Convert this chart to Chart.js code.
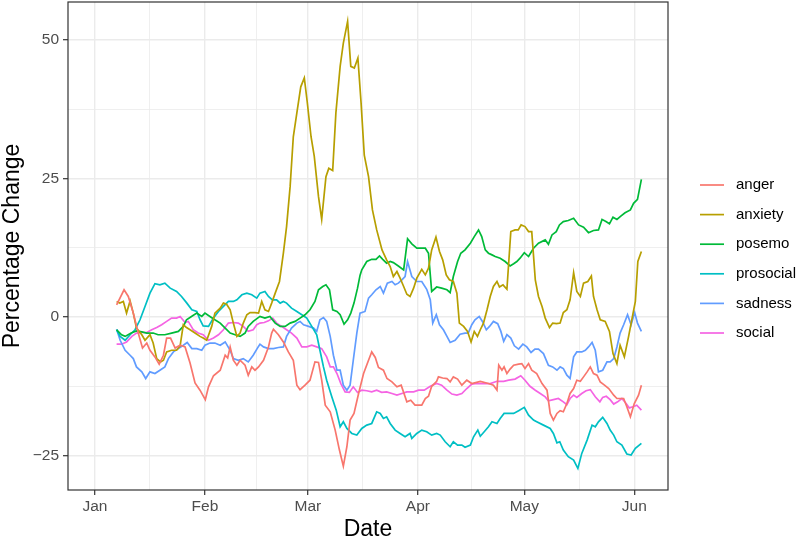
<!DOCTYPE html>
<html>
<head>
<meta charset="utf-8">
<title>Percentage Change</title>
<script src="https://cdn.jsdelivr.net/npm/chart.js@4/dist/chart.umd.min.js"></script>
<style>
  html, body { margin: 0; padding: 0; background: #ffffff; }
  #chart { display: block; }
</style>
</head>
<body>
<canvas id="chart" width="798" height="545"></canvas>
<script>
// days counted from Jan 1 (2020)
const categories = ['anger', 'anxiety', 'posemo', 'prosocial', 'sadness', 'social'];
const colors = ['#F8766D', '#B79F00', '#00BA38', '#00BFC4', '#619CFF', '#F564E3'];

// month breaks (major) and the mid-month breaks (minor)
const monthDays = [0, 31, 60, 91, 121, 152];
const monthLabels = ['Jan', 'Feb', 'Mar', 'Apr', 'May', 'Jun'];
const midMonthDays = [15.5, 45.5, 75.5, 106, 136.5];

const yTicks = [-25, 0, 25, 50];
const yMinorTicks = [-12.5, 12.5, 37.5];

const anger = [[6.1,2.2],[8.2,4.9],[9.4,3.7],[10.8,0.7],[12.2,-2.9],[13.4,-5.6],[14.6,-4.7],[15.5,-6],[16.9,-7.2],[18.1,-8.5],[19.3,-6.9],[20.2,-3.8],[21.3,-3.8],[22.6,-5.6],[24,-5.1],[25.4,-5.4],[26.8,-8.3],[28.2,-11.9],[29.6,-13.2],[31.1,-14.9],[32,-12.6],[33.4,-10.6],[35.3,-9.6],[36.7,-6.9],[37.4,-7.4],[38.1,-5.4],[39,-7.8],[40,-8.7],[40.9,-7.8],[42.3,-8.7],[43.2,-10.5],[44.2,-9],[45.1,-9.6],[46.1,-9],[47.5,-7.8],[48.9,-5.4],[49.8,-2.9],[50.3,-2.2],[51.7,-3.2],[53.1,-4.5],[54.5,-6.3],[55.9,-7.8],[56.9,-12.3],[57.8,-13.1],[59.2,-12.3],[60.6,-11.4],[62,-8.1],[63,-8.2],[63.9,-11.4],[64.9,-15.9],[66.3,-17.1],[67.7,-20.4],[68.9,-24],[70,-26.9],[71,-23.4],[71.9,-18.6],[73,-17.4],[74.3,-13.8],[75.7,-10.2],[77.1,-7.8],[78,-6.3],[79,-7.3],[79.9,-9.1],[81.3,-9.6],[82.3,-11.1],[83.7,-11.7],[85.1,-12.6],[86.3,-12.3],[87.9,-15.3],[89,-15],[90.2,-15.9],[92.1,-15.9],[93.1,-14.7],[94,-14.3],[94.9,-12.5],[96.3,-11.6],[96.8,-10.8],[98,-11],[99.2,-11.1],[100.1,-11.7],[101,-10.8],[102.2,-11.2],[103.4,-12.3],[104.8,-11.4],[106.2,-12],[108.6,-11.6],[110.9,-12],[112.3,-12.3],[113.3,-13.2],[113.8,-8.7],[114.7,-9.6],[115.3,-9],[116.1,-10.2],[117,-9.4],[118,-8.7],[119.4,-8.5],[120.3,-8.4],[121.2,-9.3],[122.2,-8.4],[123.1,-9.6],[124.5,-10.2],[126,-12],[127.4,-13.2],[128.3,-17.4],[129.2,-18.6],[130.2,-17.4],[131.1,-16.9],[132,-17.1],[133,-15.6],[133.9,-13.8],[134.9,-12.9],[135.8,-11.4],[136.8,-11.6],[137.7,-10.8],[138.7,-9.9],[139.6,-9],[140.5,-10.2],[141.5,-10.5],[142.4,-11.7],[143.6,-12.3],[144.8,-12.9],[146.2,-14.1],[147.1,-14.7],[149,-14.7],[149.9,-16.2],[150.9,-18],[152,-15.6],[153.2,-14.1],[154,-12.3]];

const anxiety = [[6.1,2.8],[7,2.5],[8,2.8],[8.9,0.7],[9.9,2.9],[10.8,0.7],[11.7,-2],[13.2,-3.2],[14.1,-4.2],[15.5,-3.2],[16.4,-4.7],[17.4,-7.5],[18.5,-8.1],[19.3,-7.8],[20.2,-6.3],[21.6,-6],[23,-6],[24,-5.2],[24.9,-1.4],[25.8,-1.9],[26.8,-2.3],[28.2,-2.9],[29.6,-3.5],[30.5,-3.8],[31.5,-4.2],[32.9,-1.7],[33.8,0.7],[35.3,1.6],[36.2,2.5],[37.1,2.3],[38.1,1.3],[39,-1.1],[40,-3.5],[40.9,-2.9],[41.8,-1.1],[42.8,0.4],[43.7,0.8],[45.1,0.8],[46.1,0.7],[47,2.8],[47.9,1.3],[48.9,1],[49.8,2.5],[50.8,4.3],[52,6.4],[53.1,11.5],[54,16.3],[55,23.5],[55.9,32.5],[56.9,36.8],[58,41.5],[59,43.1],[59.8,38.9],[60.9,32.5],[61.8,29],[63,21.7],[63.9,17.6],[65.1,25.3],[65.9,26.8],[67,26.4],[67.9,36.8],[69.1,45.2],[70,49.4],[71.2,53.3],[72.1,45.2],[73.1,44.9],[74.1,46.7],[75,38.6],[75.9,29.2],[77.1,25.3],[78.2,19.3],[79.4,15.7],[80.9,12.1],[82.2,10.3],[83.2,9.1],[84.1,7.3],[85.1,8.2],[86,7],[87,5.5],[87.9,4.1],[88.8,3.7],[89.8,5.2],[90.7,7],[92.1,8.6],[93.1,7.6],[94,8.8],[94.9,12.1],[96.1,14.4],[97.1,11.8],[98,10.3],[99,7.6],[99.9,6.7],[101,6.4],[102,4.3],[102.7,-1.1],[103.9,-1.7],[105,-2.6],[106,-4.5],[106.9,-2.6],[107.8,-3.5],[108.6,-2.3],[109.5,-1.1],[110.5,1.3],[111.4,3.7],[112.3,5.5],[113.3,6.4],[114,5.4],[115,5.8],[116.1,5],[117.2,15.4],[118.4,15.7],[119.3,15.7],[120.1,16.6],[121.2,16.3],[122.2,15.4],[123.1,15.4],[124.1,6.7],[125,3.7],[126,1.9],[126.9,-0.2],[128.1,-1.9],[129,-1.1],[130.1,-1.2],[131.1,-1.1],[132,0.8],[133,1.3],[133.9,3.1],[134.9,8],[135.8,4.6],[136.8,3.7],[137.7,6.1],[138.9,6.4],[139.9,7.4],[140.5,3.7],[141.5,1.3],[142.4,-0.5],[143.8,-0.8],[145,-2.6],[146,-6.6],[147.1,-8.4],[148,-5.1],[149.2,-7.2],[150.4,-3.5],[151.3,-0.5],[152.3,2.8],[153,10],[154,11.8]];

const posemo = [[6.1,-2.3],[7.5,-3.2],[8.5,-3.5],[10.2,-2.9],[11.7,-2.5],[13.2,-2.7],[14.6,-2.9],[16.4,-2.9],[17.8,-3.2],[19.7,-3.2],[21.6,-2.9],[23.5,-2.6],[24.9,-1.7],[25.8,-0.5],[27.2,0.1],[28.7,0.7],[30.1,0.1],[31,0.7],[32.4,0.1],[33.8,-0.5],[35.3,-1.1],[36.7,-2],[38.1,-2.9],[39.5,-3.2],[40.9,-3.5],[42.3,-2.9],[43.2,-1.7],[44.6,-0.8],[46.5,0.1],[47.9,-0.2],[49.3,0.1],[50.8,-1.1],[52.2,-1.7],[53.6,-1.7],[55,-1.1],[56.4,-0.8],[57.8,-0.2],[59.2,0.4],[60.6,1.3],[62,2.8],[63,4.9],[64.2,5.5],[65.1,5.8],[66.1,4.9],[67,1.3],[68.2,1],[69.1,0.4],[70.2,-1.3],[71.2,-0.5],[72.1,0.7],[73,2.5],[74,5.2],[74.7,7.5],[75.2,8.5],[76.6,10],[78,10.4],[79.2,10.4],[80.2,11],[81.1,10.4],[82.2,9.7],[83.2,10],[84.1,9.8],[85.5,9.2],[87,8.5],[88.1,14.1],[89.3,13.2],[90.7,12.4],[92.1,12.4],[93.1,12.4],[94,11.5],[94.9,4.6],[96.3,5.4],[97.7,5.2],[99.2,4.9],[100.1,4.4],[101,7.3],[102.2,10],[103.1,11.5],[104.3,12.1],[105.8,13.3],[106.9,14.5],[108.1,15.7],[109,14.5],[110,12.1],[110.9,11.5],[111.9,11.2],[112.8,10.9],[114.2,10.6],[115.6,10],[117,9.2],[118,9.6],[118.9,10],[119.8,10.6],[121,11.6],[122.2,10.9],[123.6,12.4],[125,13.3],[126.9,13.9],[127.8,13.1],[128.8,14.8],[130,15.4],[130.9,16.6],[132,17.2],[133.4,17.4],[134.9,17.8],[136.3,16.6],[137.7,16.2],[139.1,15.2],[140.5,15.6],[141.9,15.7],[142.9,17.6],[144,17.2],[145,16.8],[146,18],[147.1,17.6],[148.2,18.2],[149.4,18.8],[150.9,19.3],[151.8,20.5],[152.9,21.2],[154,24.8]];

const prosocial = [[6.1,-2.3],[7.1,-3.5],[8.5,-4.2],[9.9,-3.2],[11.3,-2.3],[12.7,-0.5],[14.1,1.9],[15.5,4.3],[16.9,6],[18.3,5.8],[19.7,6.1],[21.2,5.2],[23,4.6],[24.4,3.7],[25.9,2.5],[27.3,1.3],[28.7,1],[29.6,-0.5],[30.5,-1.6],[32,-1.7],[33.4,-0.2],[34.8,1],[36.2,1.9],[37.6,2.8],[39,2.8],[40,3.1],[41.4,4],[42.8,4.3],[44.2,4],[45.6,3.4],[46.5,4.3],[47.9,4.6],[48.9,3.7],[50,3.1],[51.2,3.1],[52.2,2.5],[53.1,2.8],[54,2.5],[55.4,1.6],[56.9,1],[58.3,0.4],[59.7,-0.2],[61.1,-1.7],[62.5,-3.2],[63.4,-6],[64.4,-9],[65.3,-11.4],[66.7,-14.3],[68,-16.8],[69.1,-19.8],[70,-18.9],[71,-20.1],[72.4,-21],[73.8,-21.3],[75.2,-20.1],[76.6,-19.5],[78,-19.2],[79.4,-17.1],[80.4,-17.4],[81.3,-18.3],[82.2,-18],[83.2,-19.2],[84.6,-20.4],[86,-21],[87.4,-21.6],[88.8,-21],[89.3,-21.9],[90.7,-21],[92.1,-20.4],[93.5,-20.7],[94.9,-21.3],[96.3,-21],[97.3,-21.3],[98.7,-22.5],[100.1,-23.4],[101,-22.5],[102.2,-23.1],[103.4,-23.1],[104.3,-23.5],[105.8,-23.1],[106.7,-21.6],[107.9,-20.4],[108.6,-21.5],[109.7,-20.7],[110.9,-19.8],[111.9,-18.9],[113.3,-19.2],[114.2,-18.3],[115.3,-17.4],[116.6,-17.4],[118,-17.4],[119.4,-16.9],[121,-16.3],[122.2,-17.7],[123.6,-18.6],[124.5,-18.9],[126.4,-19.5],[128.3,-20.1],[129.2,-21],[130.2,-22.7],[131,-22.5],[132,-24],[133.4,-25.2],[134.9,-25.8],[136.1,-27.3],[137.2,-24.6],[138.7,-22.2],[140.1,-19.5],[141,-19.8],[141.9,-18.9],[143.1,-18.1],[144.3,-19.2],[145.2,-20.4],[146.2,-21.3],[147.1,-22.5],[148.5,-23.1],[149.9,-24.7],[151.1,-24.9],[152.3,-23.7],[154,-22.8]];

const sadness = [[6.1,-2.2],[7.1,-4.2],[8.5,-6],[9.9,-6.9],[10.8,-7.5],[11.7,-9],[13.2,-9.9],[14.3,-11.1],[15.5,-9.9],[16.9,-10.2],[18.3,-9.6],[19.7,-9],[20.7,-7.5],[22.1,-6.3],[23.5,-5.7],[24.9,-5.1],[26,-4.6],[27.3,-5.7],[28.7,-5.7],[30.1,-6],[31,-5.1],[32.4,-4.7],[33.8,-4.7],[35.3,-5.1],[36.7,-4.5],[38.1,-6],[39,-7.5],[40.4,-7.8],[41.8,-7.5],[43.2,-8.1],[44.6,-6.9],[46,-5.4],[46.5,-4.9],[47.5,-5.4],[48.9,-5.7],[50.3,-5.7],[51.7,-5.5],[53.1,-5.4],[54,-3.5],[55.4,-2],[56.9,-1.1],[57.8,-0.8],[58.8,-1.4],[60.2,-1.7],[61.6,-2],[62.5,-2.6],[63.4,-0.5],[64.4,-0.1],[65.3,-0.8],[66.3,-3.5],[67.2,-6.9],[68.2,-9.6],[69.1,-9.6],[70,-12.3],[71,-13.2],[71.9,-12.3],[72.8,-7.8],[73.8,-2.9],[74.7,0.7],[76.1,1],[77.1,3.4],[78,4],[79.2,4.9],[80.4,5.5],[81.3,4.3],[82.4,6.1],[83.7,6.4],[84.6,5.8],[85.5,6.1],[86.5,6.7],[87.4,7.3],[88.1,10],[89.3,7.3],[90.7,6.4],[92.1,6.4],[93.5,5],[94.5,3.1],[95.2,-1.1],[96.2,0.4],[97.1,-1.4],[98.2,-2.3],[99.2,-3.5],[100.1,-4.6],[101.5,-4.2],[102.9,-3.1],[104.3,-2.9],[105.2,-2.9],[106.2,-1.4],[107.1,-0.5],[108.3,0.1],[109.2,-0.8],[110.3,-2.3],[111.2,-1.7],[112.3,-0.8],[113.5,-1.2],[114.4,-2.6],[115.2,-4.4],[116.1,-3.2],[117.2,-3.8],[118.2,-5.2],[119.4,-5.8],[120.6,-4.9],[121.7,-5.4],[122.9,-6.4],[124,-5.8],[125,-5.8],[126.4,-6.6],[127.8,-8.7],[129,-9],[130.2,-9.6],[131.1,-9],[132,-9.3],[133,-10.5],[133.9,-11.1],[134.9,-7.2],[135.8,-6.3],[137.2,-6.3],[138.2,-6],[139.1,-5.4],[140.1,-4.6],[141,-6],[141.9,-9.9],[143.1,-9.6],[144.3,-8.1],[145.2,-8.1],[146.2,-7.5],[147.1,-5.4],[148,-2.9],[149,-1.4],[150.1,0.4],[151.1,-1.4],[152.1,0.8],[152.9,-1.1],[154,-2.6]];

const social = [[6.1,-4.9],[7.5,-4.9],[8.9,-4.5],[10.4,-3.5],[11.7,-2.9],[13.2,-2.8],[14.6,-2.8],[16,-2.3],[17.4,-1.9],[18.8,-1.4],[20.2,-0.8],[21.6,-0.2],[23,-0.2],[24,0.1],[25.4,-1],[26.3,-0.8],[27.7,-2.3],[29.1,-2.9],[30.5,-3.2],[32,-4.2],[33.4,-3.8],[34.8,-3.2],[36.2,-2.3],[37.6,-1.1],[39,-1],[40.4,-1.1],[41.8,-1.7],[43.2,-2.6],[44.6,-2.3],[45.6,-1.4],[46.5,-1.1],[47.7,-1],[48.9,-0.7],[50.1,-0.2],[51.2,-1.1],[52.6,-1.7],[54,-2.3],[55.4,-2.9],[56.9,-3.8],[58.3,-5.4],[59.7,-5.4],[61.1,-5.1],[62.5,-5.4],[63.9,-5.7],[65.3,-7.2],[66.3,-9],[67.2,-9],[68.2,-10.2],[69.3,-12],[70.5,-13.5],[71.7,-13.6],[72.8,-12.6],[74,-13.6],[75.2,-13.2],[76.6,-13.3],[78,-13.5],[79.4,-13.2],[80.8,-13.6],[82.2,-13.5],[83.7,-13.8],[85.1,-14.1],[86.5,-13.8],[87.9,-13.5],[89.8,-13.5],[91.2,-13.2],[92.8,-13.2],[94.5,-12.5],[96.3,-12],[97.7,-12.3],[99.2,-13.2],[100.6,-13.9],[102,-14.1],[103.4,-13.8],[104.8,-12.9],[106.2,-12.1],[107.6,-12],[109.5,-12],[111.4,-12],[113.3,-11.6],[115.2,-11.6],[116.6,-11.4],[118.4,-11.2],[120,-10.6],[121.2,-11.4],[122.6,-12.5],[124.1,-13.2],[125.5,-13.8],[126.9,-14.4],[127.8,-15.1],[129.2,-14.9],[130.6,-14.7],[132,-15.3],[133,-15.8],[133.9,-14.7],[134.9,-14.1],[135.8,-14.5],[137.2,-13.8],[138.4,-13.3],[139.6,-13.1],[141,-14.4],[142.3,-15.3],[143.1,-14.5],[144.1,-14.3],[145.2,-14.9],[146.2,-15.7],[147.3,-15.3],[148.5,-14.7],[149.7,-15.6],[150.6,-16.4],[151.6,-16.2],[152.7,-15.9],[154,-16.8]];

const seriesValues = [anger, anxiety, posemo, prosocial, sadness, social];

Chart.defaults.font.family = "'Liberation Sans', Arial, Helvetica, sans-serif";

// grey92 grid, grey20 ticks + border, grey30 tick text (ggplot theme_bw look)
const GRID = '#EBEBEB';
const DARK = '#333333';
const TICK_TEXT = '#4D4D4D';

function isMajorX(v) { return monthDays.indexOf(v) !== -1; }
function isMajorY(v) { return yTicks.indexOf(v) !== -1; }

// panel border + the legend on the right side
const panelAndLegend = {
  id: 'panelAndLegend',
  afterDraw(chart) {
    const ctx = chart.ctx;
    const a = chart.chartArea;
    ctx.save();
    ctx.strokeStyle = DARK;
    ctx.lineWidth = 1.2;
    ctx.strokeRect(a.left, a.top, a.right - a.left, a.bottom - a.top);

    const x0 = a.right + 32;
    const y0 = 185;
    ctx.font = "15px 'Liberation Sans', Arial, sans-serif";
    ctx.textBaseline = 'middle';
    ctx.textAlign = 'left';
    chart.data.datasets.forEach((ds, i) => {
      const y = y0 + i * 29.6;
      ctx.strokeStyle = ds.borderColor;
      ctx.lineWidth = 1.7;
      ctx.beginPath();
      ctx.moveTo(x0, y);
      ctx.lineTo(x0 + 24, y);
      ctx.stroke();
      ctx.fillStyle = '#000000';
      ctx.fillText(ds.label, x0 + 36, y);
    });
    ctx.restore();
  }
};

const datasets = categories.map((name, i) => ({
  label: name,
  data: seriesValues[i].map(p => ({ x: p[0], y: p[1] })),
  borderColor: colors[i],
  backgroundColor: colors[i],
  borderWidth: 1.7,
  pointRadius: 0,
  tension: 0,
  fill: false
}));

new Chart(document.getElementById('chart'), {
  type: 'line',
  data: { datasets: datasets },
  options: {
    responsive: false,
    animation: false,
    events: [],
    layout: { padding: { top: 2, right: 130, left: 0, bottom: 0 } },
    plugins: {
      legend: { display: false },
      tooltip: { enabled: false }
    },
    scales: {
      x: {
        type: 'linear',
        min: -7.6,
        max: 161.5,
        afterBuildTicks(scale) {
          scale.ticks = monthDays.concat(midMonthDays).sort((a, b) => a - b).map(v => ({ value: v }));
        },
        afterFit(scale) {
          scale.height = 55;
          scale.paddingLeft = 0;
          scale.paddingRight = 0;
        },
        border: { display: false },
        grid: {
          color: GRID,
          lineWidth: c => isMajorX(c.tick.value) ? 1.4 : 0.8,
          tickColor: c => isMajorX(c.tick.value) ? DARK : 'rgba(0,0,0,0)',
          tickWidth: 1.2,
          tickLength: 5
        },
        ticks: {
          autoSkip: false,
          maxRotation: 0,
          padding: 2,
          color: TICK_TEXT,
          font: { size: 15.5 },
          callback: v => {
            const i = monthDays.indexOf(v);
            return i === -1 ? '' : monthLabels[i];
          }
        },
        title: {
          display: true,
          text: 'Date',
          color: '#000000',
          font: { size: 23 },
          padding: { top: 0, bottom: 2 }
        }
      },
      y: {
        type: 'linear',
        min: -31.2,
        max: 56.8,
        afterBuildTicks(scale) {
          scale.ticks = yTicks.concat(yMinorTicks).sort((a, b) => a - b).map(v => ({ value: v }));
        },
        afterFit(scale) {
          scale.width = 68;
          scale.paddingTop = 0;
          scale.paddingBottom = 0;
        },
        border: { display: false },
        grid: {
          color: GRID,
          lineWidth: c => isMajorY(c.tick.value) ? 1.4 : 0.8,
          tickColor: c => isMajorY(c.tick.value) ? DARK : 'rgba(0,0,0,0)',
          tickWidth: 1.2,
          tickLength: 5
        },
        ticks: {
          autoSkip: false,
          padding: 4,
          color: TICK_TEXT,
          font: { size: 15.5 },
          callback: v => isMajorY(v) ? String(v).replace('-', '\u2212') : ''
        },
        title: {
          display: true,
          text: 'Percentage Change',
          color: '#000000',
          font: { size: 23 },
          padding: { top: -1, bottom: 0 }
        }
      }
    }
  },
  plugins: [panelAndLegend]
});
</script>
</body>
</html>
